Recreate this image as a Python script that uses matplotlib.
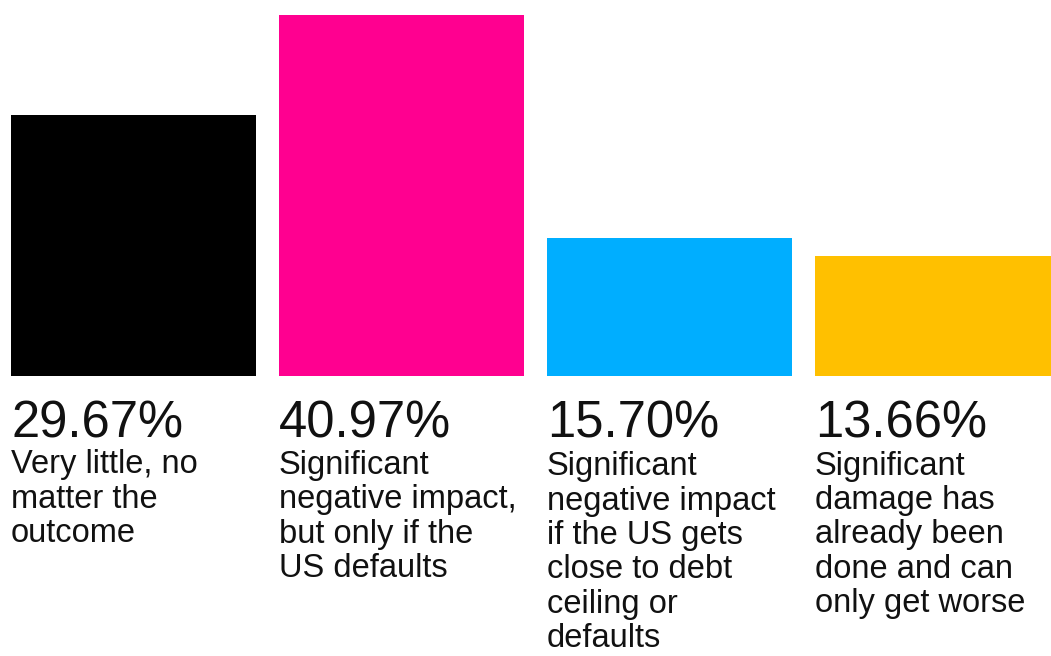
import matplotlib
matplotlib.use("Agg")
import matplotlib.pyplot as plt

# survey answers
shares = [29.67, 40.97, 15.70, 13.66]
answers = [
    "Very little, no\nmatter the\noutcome",
    "Significant\nnegative impact,\nbut only if the\nUS defaults",
    "Significant\nnegative impact\nif the US gets\nclose to debt\nceiling or\ndefaults",
    "Significant\ndamage has\nalready been\ndone and can\nonly get worse",
]
colors = ["#000000", "#FF0090", "#00AEFF", "#FFC000"]

plt.rcParams["font.family"] = ["Liberation Sans", "DejaVu Sans"]

W, H = 1051, 656
PT = 72 / 100  # points per pixel
fig = plt.figure(figsize=(W / 100, H / 100), dpi=100)
ax = fig.add_axes([0, (H - 376) / H, 1, 361 / H])

width = 245 / 268
x = list(range(len(shares)))
ax.bar(x, shares, width=width, color=colors)
ax.set_xlim(-133.5 / 268, (W - 133.5) / 268)
ax.set_ylim(0, max(shares))
ax.axis("off")

line_px = 35
for i, (v, txt) in enumerate(zip(shares, answers)):
    left = i - width / 2
    ax.annotate(f"{v:.2f}%", xy=(left, 0), xycoords=("data", "axes fraction"),
                xytext=(0, -61 * PT), textcoords="offset points",
                ha="left", va="baseline", fontsize=36.5, color="#111111")
    # baseline alignment uses the last line, so push down by line count
    n = txt.count("\n")
    ax.annotate(txt, xy=(left, 0), xycoords=("data", "axes fraction"),
                xytext=(0, -(96 + line_px * n) * PT), textcoords="offset points",
                ha="left", va="baseline", fontsize=23.5, color="#111111",
                linespacing=1.14)

fig.savefig("out.png", dpi=100)
